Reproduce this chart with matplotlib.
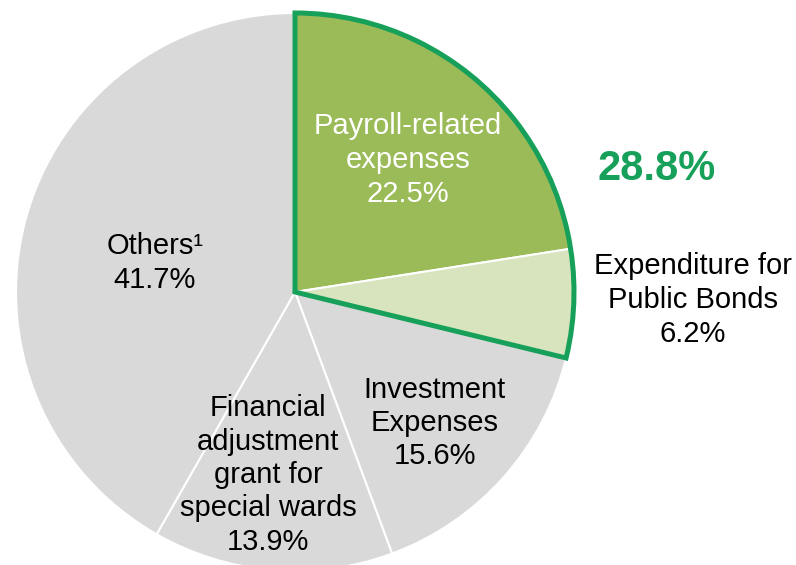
import matplotlib
matplotlib.use("Agg")
import matplotlib.pyplot as plt
from matplotlib.patches import Wedge

plt.rcParams['font.family'] = ['Liberation Sans', 'DejaVu Sans']

# data
categories = ["Payroll-related\nexpenses", "Expenditure for\nPublic Bonds", "Investment\nExpenses",
              "Financial\nadjustment\ngrant for\nspecial wards", "Others¹"]
shares = [22.5, 6.2, 15.6, 13.9, 41.7]
highlight_total = 28.8

colors = ['#9BBB59', '#D7E4BD', '#D9D9D9', '#D9D9D9', '#D9D9D9']
text_colors = ['white', 'black', 'black', 'black', 'black']
green = '#16A05A'

# label positions in pixel coords (x, y from top)
label_pos = [(408, 160), (693, 300), (435, 423), (268, 475), (155, 263)]

W, H = 796, 565
fig = plt.figure(figsize=(W / 100, H / 100), dpi=100)
ax = fig.add_axes([0, 0, 1, 1])

cx, cy, r = 295, H - 292, 279
ax.pie(shares, colors=colors, startangle=90, counterclock=False,
       center=(cx, cy), radius=r, frame=True,
       wedgeprops=dict(edgecolor='white', linewidth=1.5))

# outline around payroll + bonds
end_angle = 90 - highlight_total * 3.6
ax.add_patch(Wedge((cx, cy), r, end_angle, 90, fill=False, edgecolor=green,
                   linewidth=3.6, joinstyle='miter', zorder=5))

for cat, val, (px, py), tc in zip(categories, shares, label_pos, text_colors):
    ax.text(px, H - py, f"{cat}\n{val:.1f}%", ha='center', va='center',
            fontsize=21, color=tc, linespacing=1.25, zorder=6)

ax.text(657, H - 169, f"{highlight_total:.1f}%", ha='center', va='center',
        fontsize=30, fontweight='bold', color=green)

ax.set_xlim(0, W)
ax.set_ylim(0, H)
ax.set_aspect('equal')
ax.axis('off')

fig.savefig("out.png", dpi=100)
